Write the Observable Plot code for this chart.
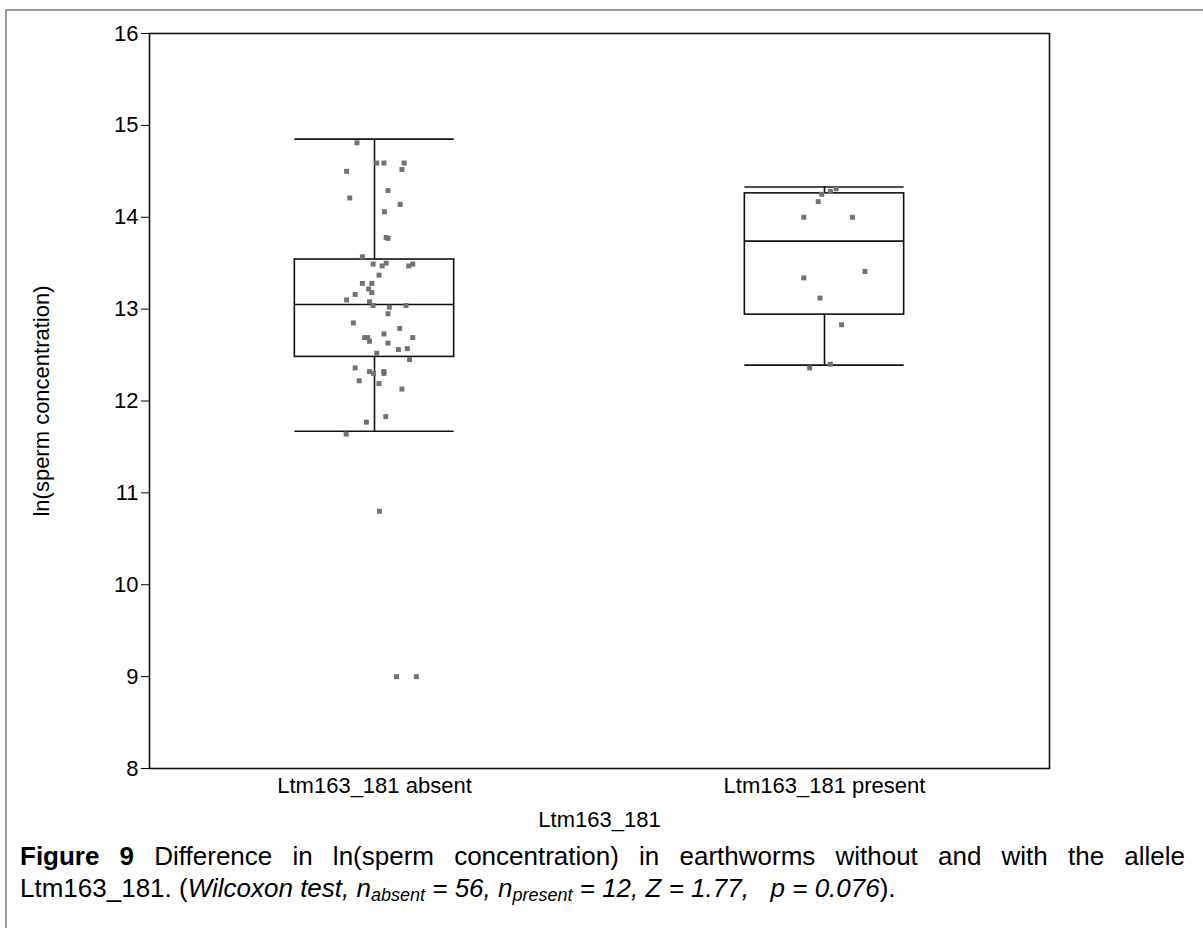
<!DOCTYPE html>
<html>
<head>
<meta charset="utf-8">
<script src="https://cdn.jsdelivr.net/npm/d3@7"></script>
<script src="https://cdn.jsdelivr.net/npm/@observablehq/plot@0.6"></script>
<style>
  html, body { margin: 0; padding: 0; background: #fff; }
  #page { position: relative; width: 1203px; height: 928px; overflow: hidden; font-family: "Liberation Sans", Arial, sans-serif; }
  #border { position: absolute; left: 5px; top: 9px; width: 1300px; height: 1000px; border-left: 2px solid #9a9a9a; border-top: 2px solid #9a9a9a; }
  #chart { position: absolute; left: 0; top: 0; }
  .cap { position: absolute; left: 20px; width: 1165px; font-size: 26px; line-height: 26px; color: #000; white-space: nowrap; }
  #cap1 { top: 843px; text-align: justify; text-align-last: justify; white-space: normal; }
  #cap2 { top: 875px; }
  sub { font-size: 18px; vertical-align: -4px; line-height: 0; }
</style>
</head>
<body>
<div id="page">
  <div id="border"></div>
  <div id="chart"></div>
  <div class="cap" id="cap1"><b>Figure 9</b> Difference in ln(sperm concentration) in earthworms without and with the allele</div>
  <div class="cap" id="cap2">Ltm163_181. (<i>Wilcoxon test, n<sub>absent</sub> = 56, n<sub>present</sub> = 12, Z = 1.77, &nbsp; p = 0.076</i>).</div>
</div>
<script>
// Categories (positions 1 and 2 on the x axis)
const groups = ["Ltm163_181 absent", "Ltm163_181 present"];

const absentValues = [14.81,14.59,14.59,14.59,14.52,14.50,14.29,14.21,14.14,14.06,13.78,13.77,13.57,13.49,13.47,13.50,13.47,13.49,13.37,13.28,13.28,13.22,13.18,13.16,13.10,13.08,13.04,13.02,13.04,12.95,12.85,12.79,12.69,12.69,12.65,12.73,12.69,12.63,12.56,12.57,12.52,12.45,12.36,12.32,12.30,12.32,12.30,12.22,12.19,12.13,11.83,11.77,11.64,10.80,9.00,9.00];
const absentJitter = [-0.039,0.005,0.021,0.066,0.061,-0.062,0.030,-0.055,0.057,0.022,0.026,0.030,-0.027,-0.003,0.017,0.026,0.076,0.085,0.010,-0.027,-0.006,-0.013,-0.006,-0.043,-0.062,-0.011,-0.003,0.033,0.070,0.030,-0.047,0.056,-0.022,-0.015,-0.011,0.021,0.085,0.030,0.053,0.073,0.005,0.078,-0.043,-0.011,-0.002,0.021,0.021,-0.034,0.010,0.061,0.025,-0.018,-0.063,0.011,0.049,0.093];
const presentValues = [14.25,14.17,14.28,14.31,14.00,14.00,13.41,13.34,13.12,12.83,12.36,12.40];
const presentJitter = [-0.006,-0.014,0.013,0.026,-0.046,0.062,0.090,-0.046,-0.010,0.038,-0.033,0.013];

// Box-plot summaries per group
const whiskerLow  = [11.67, 12.39];
const boxLow      = [12.48, 12.94];
const boxMedian   = [13.05, 13.74];
const boxHigh     = [13.54, 14.26];
const whiskerHigh = [14.85, 14.33];

const yTicks = [8, 9, 10, 11, 12, 13, 14, 15, 16];

const halfBox = 0.177;
const boxes = groups.map((g, i) => ({
  pos: i + 1, lo: whiskerLow[i], q1: boxLow[i], med: boxMedian[i], q3: boxHigh[i], hi: whiskerHigh[i]
}));
const points = [
  ...absentValues.map((v, i) => ({pos: 1 + absentJitter[i], v})),
  ...presentValues.map((v, i) => ({pos: 2 + presentJitter[i], v}))
];

const stroke = "#111";
const sw = 1.6;

const chart = Plot.plot({
  width: 1203,
  height: 840,
  marginLeft: 149,
  marginRight: 154,
  marginTop: 33,
  marginBottom: 72,
  style: {fontFamily: "'Liberation Sans', Arial, sans-serif", fontSize: "22px", color: "#000", background: "transparent"},
  x: {domain: [0.5, 2.5]},
  y: {domain: [8, 16]},
  marks: [
    Plot.rect(boxes, {x1: d => d.pos - halfBox, x2: d => d.pos + halfBox, y1: "q1", y2: "q3", fill: "white", stroke, strokeWidth: sw}),
    Plot.ruleY(boxes, {x1: d => d.pos - halfBox, x2: d => d.pos + halfBox, y: "med", stroke, strokeWidth: sw}),
    Plot.ruleY(boxes, {x1: d => d.pos - halfBox, x2: d => d.pos + halfBox, y: "lo", stroke, strokeWidth: sw}),
    Plot.ruleY(boxes, {x1: d => d.pos - halfBox, x2: d => d.pos + halfBox, y: "hi", stroke, strokeWidth: sw}),
    Plot.ruleX(boxes, {x: "pos", y1: "lo", y2: "q1", stroke, strokeWidth: sw}),
    Plot.ruleX(boxes, {x: "pos", y1: "q3", y2: "hi", stroke, strokeWidth: sw}),
    Plot.dot(points, {x: "pos", y: "v", symbol: "square", r: 2.8, fill: "#727272", stroke: "none"}),
    Plot.frame({stroke, strokeWidth: sw}),
    Plot.axisY({ticks: yTicks, tickSize: 8, tickPadding: 3, tickFormat: d => String(d), label: "ln(sperm concentration)", labelAnchor: "center", labelOffset: 116, labelArrow: "none", fontSize: 22}),
    Plot.axisX({ticks: [1, 2], tickSize: 0, tickPadding: 9, tickFormat: d => groups[d - 1], label: "Ltm163_181", labelAnchor: "center", labelOffset: 58, labelArrow: "none", fontSize: 22})
  ]
});
document.getElementById("chart").appendChild(chart);
</script>
</body>
</html>
